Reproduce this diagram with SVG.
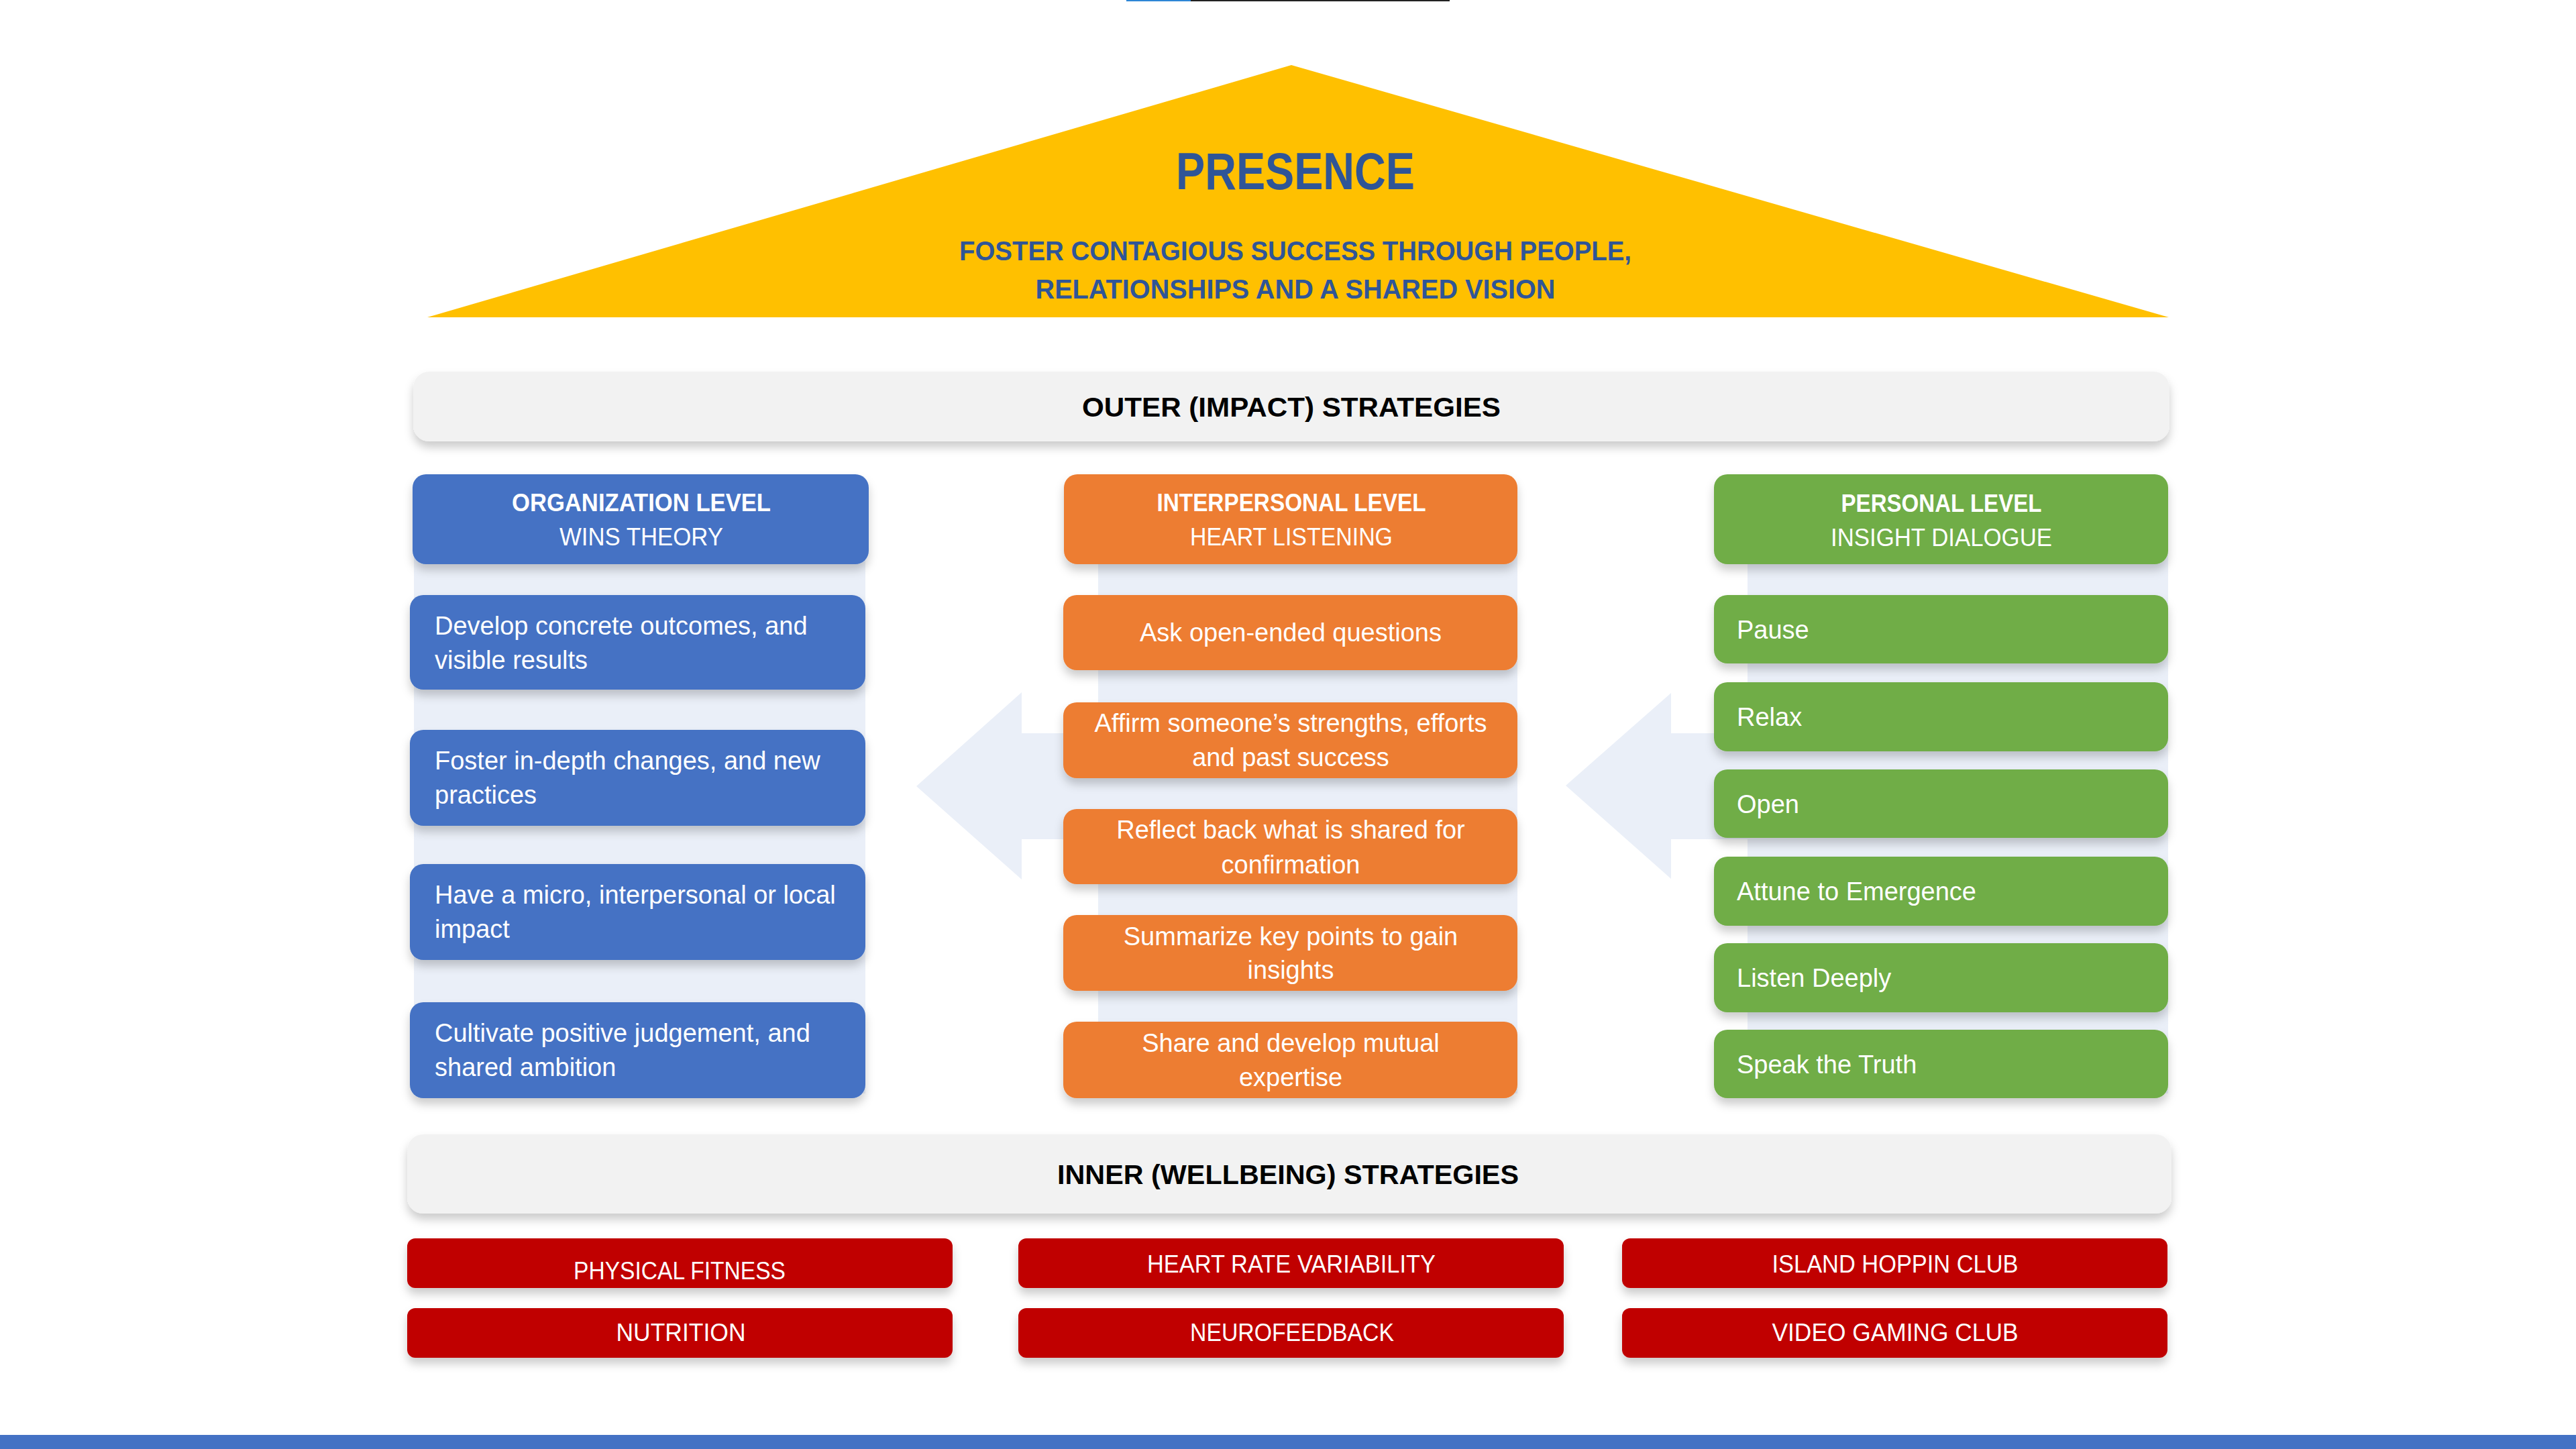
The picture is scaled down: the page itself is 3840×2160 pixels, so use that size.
<svg xmlns="http://www.w3.org/2000/svg" width="3840" height="2160" viewBox="0 0 3840 2160">
<defs>
<filter id="sh" x="-10%" y="-30%" width="120%" height="170%">
<feDropShadow dx="0" dy="9" stdDeviation="7" flood-color="#000" flood-opacity="0.2"/>
</filter>
<style>
text{font-family:"Liberation Sans",Arial,sans-serif;}
.t{font-size:38px;fill:#fff;}
.c{text-anchor:middle;}
.hb{font-size:37px;font-weight:bold;fill:#fff;text-anchor:middle;}
.hr{font-size:37px;fill:#fff;text-anchor:middle;}
.bar{fill:#F2F2F2;filter:url(#sh);}
.bt{font-size:41px;font-weight:bold;fill:#000;text-anchor:middle;}
.blue{fill:#4472C4;filter:url(#sh);}
.orange{fill:#ED7D31;filter:url(#sh);}
.green{fill:#70AD47;filter:url(#sh);}
.red{fill:#C00000;filter:url(#sh);}
.rt{font-size:37px;fill:#fff;text-anchor:middle;}
.band{fill:#EAEFF8;}
.ttl{fill:#2F5597;font-weight:bold;text-anchor:middle;}
</style>
</defs>
<rect x="0" y="0" width="3840" height="2160" fill="#fff"/>
<rect x="1679" y="0" width="96" height="2" fill="#2E86D6"/>
<rect x="1775" y="0" width="386" height="2" fill="#222"/>

<g id="presence">
<polygon points="1925,97 3233,473 637,473" fill="#FFC000"/>
<text class="ttl" x="1931" y="282" font-size="77" textLength="356" lengthAdjust="spacingAndGlyphs">PRESENCE</text>
<text class="ttl" x="1931" y="388" font-size="40" textLength="1002" lengthAdjust="spacingAndGlyphs">FOSTER CONTAGIOUS SUCCESS THROUGH PEOPLE,</text>
<text class="ttl" x="1931" y="445" font-size="40" textLength="775" lengthAdjust="spacingAndGlyphs">RELATIONSHIPS AND A SHARED VISION</text>
</g>

<g id="outer-strategies">
<rect class="bar" x="616" y="554" width="2618" height="104" rx="24"/>
<text class="bt" x="1925" y="621" textLength="624" lengthAdjust="spacingAndGlyphs">OUTER (IMPACT) STRATEGIES</text>
</g>

<g id="connectors">
<rect class="band" x="617" y="780" width="673" height="850"/>
<polygon class="band" points="1366,1172 1523,1032 1523,1093 1637,1093 1637,780 2262,780 2262,1630 1637,1630 1637,1251 1523,1251 1523,1311"/>
<polygon class="band" points="2334,1171 2491,1033 2491,1093 2605,1093 2605,780 3232,780 3232,1630 2605,1630 2605,1251 2491,1251 2491,1310"/>
</g>

<g id="organization-level">
<rect class="blue" x="615" y="707" width="680" height="134" rx="20"/>
<text class="hb" x="956" y="762" textLength="386" lengthAdjust="spacingAndGlyphs">ORGANIZATION LEVEL</text>
<text class="hr" x="956" y="813" textLength="244" lengthAdjust="spacingAndGlyphs">WINS THEORY</text>
</g>
<g id="org-1">
<rect class="blue" x="611" y="887" width="679" height="141" rx="20"/>
<text class="t" x="648" y="946">Develop concrete outcomes, and</text>
<text class="t" x="648" y="997">visible results</text>
</g>
<g id="org-2">
<rect class="blue" x="611" y="1088" width="679" height="143" rx="20"/>
<text class="t" x="648" y="1147">Foster in-depth changes, and new</text>
<text class="t" x="648" y="1198">practices</text>
</g>
<g id="org-3">
<rect class="blue" x="611" y="1288" width="679" height="143" rx="20"/>
<text class="t" x="648" y="1347">Have a micro, interpersonal or local</text>
<text class="t" x="648" y="1398">impact</text>
</g>
<g id="org-4">
<rect class="blue" x="611" y="1494" width="679" height="143" rx="20"/>
<text class="t" x="648" y="1553">Cultivate positive judgement, and</text>
<text class="t" x="648" y="1604">shared ambition</text>
</g>

<g id="interpersonal-level">
<rect class="orange" x="1586" y="707" width="676" height="134" rx="20"/>
<text class="hb" x="1925" y="762" textLength="401" lengthAdjust="spacingAndGlyphs">INTERPERSONAL LEVEL</text>
<text class="hr" x="1925" y="813" textLength="302" lengthAdjust="spacingAndGlyphs">HEART LISTENING</text>
</g>
<g id="inter-1">
<rect class="orange" x="1585" y="887" width="677" height="112" rx="20"/>
<text class="t c" x="1924" y="956">Ask open-ended questions</text>
</g>
<g id="inter-2">
<rect class="orange" x="1585" y="1047" width="677" height="113" rx="20"/>
<text class="t c" x="1924" y="1091">Affirm someone’s strengths, efforts</text>
<text class="t c" x="1924" y="1142">and past success</text>
</g>
<g id="inter-3">
<rect class="orange" x="1585" y="1206" width="677" height="112" rx="20"/>
<text class="t c" x="1924" y="1250">Reflect back what is shared for</text>
<text class="t c" x="1924" y="1302">confirmation</text>
</g>
<g id="inter-4">
<rect class="orange" x="1585" y="1364" width="677" height="113" rx="20"/>
<text class="t c" x="1924" y="1409">Summarize key points to gain</text>
<text class="t c" x="1924" y="1459">insights</text>
</g>
<g id="inter-5">
<rect class="orange" x="1585" y="1523" width="677" height="114" rx="20"/>
<text class="t c" x="1924" y="1568">Share and develop mutual</text>
<text class="t c" x="1924" y="1619">expertise</text>
</g>

<g id="personal-level">
<rect class="green" x="2555" y="707" width="677" height="134" rx="20"/>
<text class="hb" x="2894" y="763" textLength="299" lengthAdjust="spacingAndGlyphs">PERSONAL LEVEL</text>
<text class="hr" x="2894" y="814" textLength="330" lengthAdjust="spacingAndGlyphs">INSIGHT DIALOGUE</text>
</g>
<g id="pers-1">
<rect class="green" x="2555" y="887" width="677" height="102" rx="20"/>
<text class="t" x="2589" y="952">Pause</text>
</g>
<g id="pers-2">
<rect class="green" x="2555" y="1017" width="677" height="103" rx="20"/>
<text class="t" x="2589" y="1082">Relax</text>
</g>
<g id="pers-3">
<rect class="green" x="2555" y="1147" width="677" height="102" rx="20"/>
<text class="t" x="2589" y="1212">Open</text>
</g>
<g id="pers-4">
<rect class="green" x="2555" y="1277" width="677" height="103" rx="20"/>
<text class="t" x="2589" y="1342">Attune to Emergence</text>
</g>
<g id="pers-5">
<rect class="green" x="2555" y="1406" width="677" height="103" rx="20"/>
<text class="t" x="2589" y="1471">Listen Deeply</text>
</g>
<g id="pers-6">
<rect class="green" x="2555" y="1535" width="677" height="102" rx="20"/>
<text class="t" x="2589" y="1600">Speak the Truth</text>
</g>

<g id="inner-strategies">
<rect class="bar" x="607" y="1691" width="2630" height="118" rx="24"/>
<text class="bt" x="1920" y="1765" textLength="688" lengthAdjust="spacingAndGlyphs">INNER (WELLBEING) STRATEGIES</text>
</g>

<g id="physical-fitness">
<rect class="red" x="607" y="1846" width="813" height="74" rx="12"/>
<text class="rt" x="1013" y="1907" textLength="316" lengthAdjust="spacingAndGlyphs">PHYSICAL FITNESS</text>
</g>
<g id="heart-rate-variability">
<rect class="red" x="1518" y="1846" width="813" height="74" rx="12"/>
<text class="rt" x="1925" y="1897" textLength="430" lengthAdjust="spacingAndGlyphs">HEART RATE VARIABILITY</text>
</g>
<g id="island-hoppin-club">
<rect class="red" x="2418" y="1846" width="813" height="74" rx="12"/>
<text class="rt" x="2825" y="1897" textLength="367" lengthAdjust="spacingAndGlyphs">ISLAND HOPPIN CLUB</text>
</g>
<g id="nutrition">
<rect class="red" x="607" y="1950" width="813" height="74" rx="12"/>
<text class="rt" x="1015" y="1999" textLength="193" lengthAdjust="spacingAndGlyphs">NUTRITION</text>
</g>
<g id="neurofeedback">
<rect class="red" x="1518" y="1950" width="813" height="74" rx="12"/>
<text class="rt" x="1926" y="1999" textLength="304" lengthAdjust="spacingAndGlyphs">NEUROFEEDBACK</text>
</g>
<g id="video-gaming-club">
<rect class="red" x="2418" y="1950" width="813" height="74" rx="12"/>
<text class="rt" x="2825" y="1999" textLength="367" lengthAdjust="spacingAndGlyphs">VIDEO GAMING CLUB</text>
</g>

<rect x="0" y="2139" width="3840" height="21" fill="#4472C4"/>
</svg>
